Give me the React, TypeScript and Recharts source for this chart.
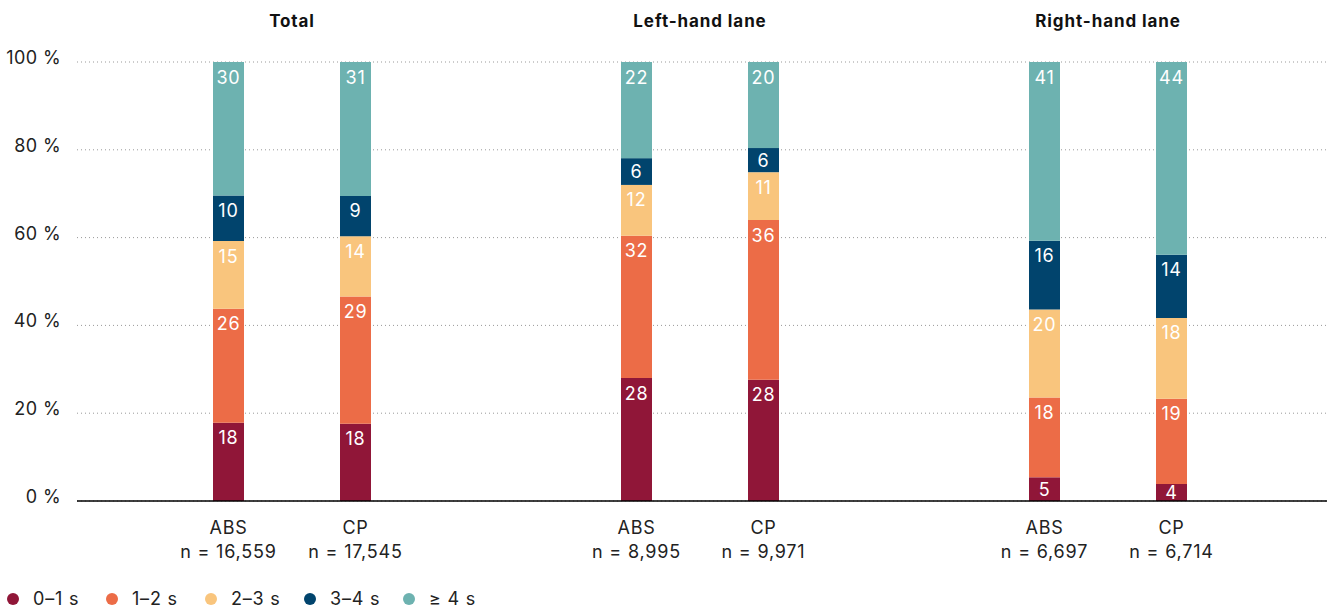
import React from "react"
import { BarChart, Bar, XAxis, YAxis, CartesianGrid, LabelList, Legend } from "recharts"

// groups along the x axis
const groups = ["Total", "Left-hand lane", "Right-hand lane"]
const absSampleSizes = ["16,559", "8,995", "6,697"]
const cpSampleSizes = ["17,545", "9,971", "6,714"]

// share of gaps (%) per time bucket, one value per group
const abs0to1 = [17.8, 28.0, 5.4]
const abs1to2 = [26.0, 32.4, 18.2]
const abs2to3 = [15.4, 11.6, 20.0]
const abs3to4 = [10.4, 6.1, 15.7]
const abs4plus = [30.4, 21.9, 40.7]

const cp0to1 = [17.6, 27.6, 3.9]
const cp1to2 = [29.0, 36.4, 19.4]
const cp2to3 = [13.7, 10.9, 18.4]
const cp3to4 = [9.2, 5.5, 14.4]
const cp4plus = [30.5, 19.6, 43.9]

const seriesNames = ["0–1 s", "1–2 s", "2–3 s", "3–4 s", "≥ 4 s"]
const seriesColors = ["#901638", "#ec6c47", "#f9c57d", "#01446d", "#6db2b0"]
const yTicks = [0, 20, 40, 60, 80, 100]

const absSeries = [abs0to1, abs1to2, abs2to3, abs3to4, abs4plus]
const cpSeries = [cp0to1, cp1to2, cp2to3, cp3to4, cp4plus]

const data = groups.map((group, i) => {
    const row: any = { group, absN: absSampleSizes[i], cpN: cpSampleSizes[i] }
    absSeries.forEach((s, k) => (row[`abs${k}`] = s[i]))
    cpSeries.forEach((s, k) => (row[`cp${k}`] = s[i]))
    return row
})

const FONT = "Inter, 'Liberation Sans', sans-serif"
const SPACING = 0.8

const SegmentLabel = (props: any) => {
    const { x, y, width, height, value } = props
    if (value == null) return null
    const cy = y + Math.min(height / 2, 15)
    return (
        <text x={x + width / 2} y={cy} textAnchor="middle" dominantBaseline="central" fill="#fff" fontSize={18} letterSpacing={SPACING} fontFamily={FONT}>
            {Math.round(value)}
        </text>
    )
}

const bottomLabel = (name: string) => (props: any) => {
    const { x, y, width, height, value } = props
    const cx = x + width / 2
    const base = y + height
    return (
        <g>
            <text x={cx} y={base + 26} textAnchor="middle" dominantBaseline="central" fill="#222" fontSize={18} letterSpacing={SPACING} fontFamily={FONT}>
                {name}
            </text>
            <text x={cx} y={base + 50} textAnchor="middle" dominantBaseline="central" fill="#222" fontSize={18} letterSpacing={SPACING} fontFamily={FONT}>
                n = {value}
            </text>
        </g>
    )
}

const GroupTitle = ({ x, payload }: any) => (
    <text x={x} y={21} textAnchor="middle" dominantBaseline="central" fill="#111" fontSize={17} fontWeight={700} letterSpacing={0.9} fontFamily={FONT}>
        {payload.value}
    </text>
)

const YTick = ({ y, payload }: any) => (
    <text x={61} y={y - 4.5} textAnchor="end" dominantBaseline="central" fill="#222" fontSize={18} letterSpacing={0.4} fontFamily={FONT}>
        {payload.value} %
    </text>
)

const LegendContent = () => (
    <div style={{ display: "flex", alignItems: "center", height: 30, paddingTop: 10, boxSizing: "border-box", paddingLeft: 7, fontFamily: FONT, fontSize: 18, letterSpacing: SPACING, color: "#222" }}>
        {seriesNames.map((name, i) => (
            <div key={name} style={{ display: "flex", alignItems: "center", width: 99 }}>
                <span style={{ width: 12, height: 12, borderRadius: 6, background: seriesColors[i], display: "inline-block", marginRight: 14, flexShrink: 0 }} />
                <span style={{ lineHeight: "20px", whiteSpace: "nowrap" }}>{name}</span>
            </div>
        ))}
    </div>
)

export default function App() {
    return (
        <div style={{ position: "absolute", left: 0, top: 0, background: "#fff" }}>
            <BarChart
                width={1327}
                height={609}
                data={data}
                margin={{ top: 62, right: 0, bottom: 0, left: 0 }}
                barSize={31}
                barGap={96}
            >
                <CartesianGrid vertical={false} stroke="#999" strokeDasharray="1 3" />
                <XAxis
                    dataKey="group"
                    height={78}
                    padding={{ left: 11, right: 15 }}
                    axisLine={{ stroke: "#000", strokeWidth: 1.5 }}
                    tickLine={false}
                    tick={<GroupTitle />}
                    interval={0}
                />
                <YAxis width={77} domain={[0, 100]} ticks={yTicks} axisLine={false} tickLine={false} tick={<YTick />} interval={0} />
                <Legend verticalAlign="bottom" height={30} content={<LegendContent />} wrapperStyle={{ left: 0, bottom: 0, width: 1327 }} />
                {seriesNames.map((name, k) => (
                    <Bar key={`abs${k}`} dataKey={`abs${k}`} name={name} stackId="abs" fill={seriesColors[k]} isAnimationActive={false}>
                        <LabelList dataKey={`abs${k}`} content={<SegmentLabel />} />
                        {k === 0 && <LabelList dataKey="absN" content={bottomLabel("ABS")} />}
                    </Bar>
                ))}
                {seriesNames.map((name, k) => (
                    <Bar key={`cp${k}`} dataKey={`cp${k}`} name={name} stackId="cp" fill={seriesColors[k]} legendType="none" isAnimationActive={false}>
                        <LabelList dataKey={`cp${k}`} content={<SegmentLabel />} />
                        {k === 0 && <LabelList dataKey="cpN" content={bottomLabel("CP")} />}
                    </Bar>
                ))}
            </BarChart>
        </div>
    )
}
